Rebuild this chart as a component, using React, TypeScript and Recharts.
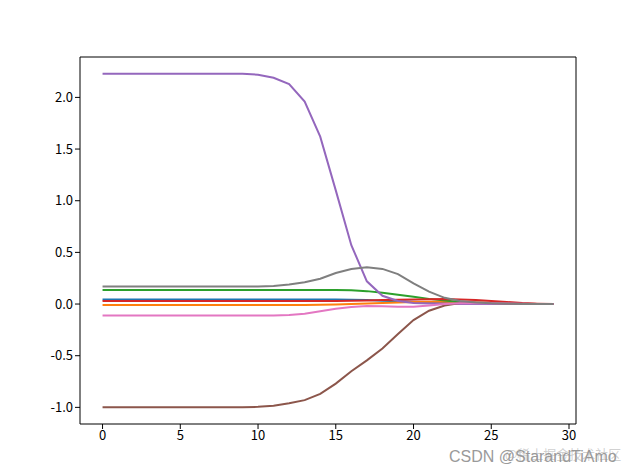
import { LineChart, Line, XAxis, YAxis, ReferenceLine } from 'recharts'

const steps = [0, 1, 2, 3, 4, 5, 6, 7, 8, 9, 10, 11, 12, 13, 14, 15, 16, 17, 18, 19, 20, 21, 22, 23, 24, 25, 26, 27, 28, 29]

const blue = [0.045, 0.045, 0.045, 0.045, 0.045, 0.045, 0.045, 0.045, 0.045, 0.045, 0.045, 0.045, 0.045, 0.045, 0.045, 0.044, 0.042, 0.038, 0.033, 0.028, 0.022, 0.017, 0.012, 0.008, 0.005, 0.003, 0.001, 0, 0, 0]
const orange = [-0.01, -0.01, -0.01, -0.01, -0.01, -0.01, -0.01, -0.01, -0.01, -0.01, -0.01, -0.01, -0.01, -0.01, -0.008, -0.005, 0, 0.005, 0.01, 0.015, 0.02, 0.022, 0.022, 0.02, 0.015, 0.01, 0.005, 0.002, 0, 0]
const green = [0.135, 0.135, 0.135, 0.135, 0.135, 0.135, 0.135, 0.135, 0.135, 0.135, 0.135, 0.135, 0.135, 0.135, 0.135, 0.135, 0.133, 0.125, 0.11, 0.09, 0.07, 0.05, 0.035, 0.02, 0.01, 0.005, 0.002, 0, 0, 0]
const red = [0.03, 0.03, 0.03, 0.03, 0.03, 0.03, 0.03, 0.03, 0.03, 0.03, 0.03, 0.03, 0.03, 0.03, 0.03, 0.03, 0.032, 0.035, 0.04, 0.042, 0.045, 0.047, 0.048, 0.045, 0.04, 0.03, 0.02, 0.01, 0.004, 0]
const purple = [2.23, 2.23, 2.23, 2.23, 2.23, 2.23, 2.23, 2.23, 2.23, 2.23, 2.22, 2.19, 2.13, 1.96, 1.62, 1.1, 0.57, 0.22, 0.08, 0.03, 0.01, 0.005, 0.002, 0, 0, 0, 0, 0, 0, 0]
const brown = [-1.0, -1.0, -1.0, -1.0, -1.0, -1.0, -1.0, -1.0, -1.0, -1.0, -0.995, -0.985, -0.96, -0.93, -0.87, -0.77, -0.65, -0.545, -0.43, -0.29, -0.155, -0.065, -0.015, 0.01, 0.015, 0.01, 0.005, 0.002, 0, 0]
const pink = [-0.11, -0.11, -0.11, -0.11, -0.11, -0.11, -0.11, -0.11, -0.11, -0.11, -0.11, -0.11, -0.105, -0.095, -0.07, -0.045, -0.028, -0.018, -0.022, -0.027, -0.027, -0.015, 0, 0.008, 0.01, 0.008, 0.005, 0.002, 0, 0]
const gray = [0.17, 0.17, 0.17, 0.17, 0.17, 0.17, 0.17, 0.17, 0.17, 0.17, 0.17, 0.175, 0.19, 0.21, 0.245, 0.3, 0.34, 0.355, 0.34, 0.29, 0.2, 0.12, 0.06, 0.03, 0.015, 0.007, 0.003, 0.001, 0, 0]

const xTicks = [0, 5, 10, 15, 20, 25, 30]
const yTicks = [-1.0, -0.5, 0.0, 0.5, 1.0, 1.5, 2.0]

// matplotlib tab10, in plotting order
const series = [
  { key: 'blue', values: blue, color: '#1f77b4' },
  { key: 'orange', values: orange, color: '#ff7f0e' },
  { key: 'green', values: green, color: '#2ca02c' },
  { key: 'red', values: red, color: '#d62728' },
  { key: 'purple', values: purple, color: '#9467bd' },
  { key: 'brown', values: brown, color: '#8c564b' },
  { key: 'pink', values: pink, color: '#e377c2' },
  { key: 'gray', values: gray, color: '#7f7f7f' },
]

const data = steps.map((x, i) => {
  const row: Record<string, number> = { x }
  series.forEach((s) => (row[s.key] = s.values[i]))
  return row
})

// 5% margins like matplotlib
const xDomain = [-1.45, 30.45]
const yDomain = [-1.161, 2.391]

const font = '"Noto Sans CJK SC", "DejaVu Sans", sans-serif'
const tickStyle = { fill: '#000', fontSize: 13, fontFamily: font }

export default function App() {
  return (
    <div style={{ position: 'fixed', left: 0, top: 0, width: 640, height: 476, background: '#fff', overflow: 'hidden' }}>
      <LineChart width={640} height={476} data={data} margin={{ top: 57, right: 64, bottom: 22, left: 0 }}>
        <XAxis
          dataKey="x"
          type="number"
          domain={xDomain}
          ticks={xTicks}
          allowDataOverflow
          height={30}
          stroke="#000"
          tickSize={5}
          tick={tickStyle}
          tickFormatter={(v) => String(v)}
        />
        <YAxis
          type="number"
          domain={yDomain}
          ticks={yTicks}
          allowDataOverflow
          width={80}
          stroke="#000"
          tickSize={5}
          tick={tickStyle}
          tickFormatter={(v) => v.toFixed(1)}
        />
        {/* top and right spines */}
        <ReferenceLine y={yDomain[1]} stroke="#000" />
        <ReferenceLine x={xDomain[1]} stroke="#000" />
        {series.map((s) => (
          <Line
            key={s.key}
            dataKey={s.key}
            stroke={s.color}
            strokeWidth={2}
            dot={false}
            type="linear"
            isAnimationActive={false}
          />
        ))}
      </LineChart>
      {/* watermarks: the two overlap in the reference too */}
      <span style={{ position: 'absolute', left: 449, top: 448, fontSize: 16, color: '#9a9a9a', fontFamily: '"Liberation Sans", Arial, sans-serif', whiteSpace: 'nowrap' }}>
        CSDN @StarandTiAmo
      </span>
      <span style={{ position: 'absolute', left: 505, top: 444, fontSize: 13, color: 'rgba(150,150,150,0.45)', fontFamily: '"Noto Sans CJK SC", sans-serif', whiteSpace: 'nowrap' }}>
        @稀土掘金技术社区
      </span>
    </div>
  )
}
